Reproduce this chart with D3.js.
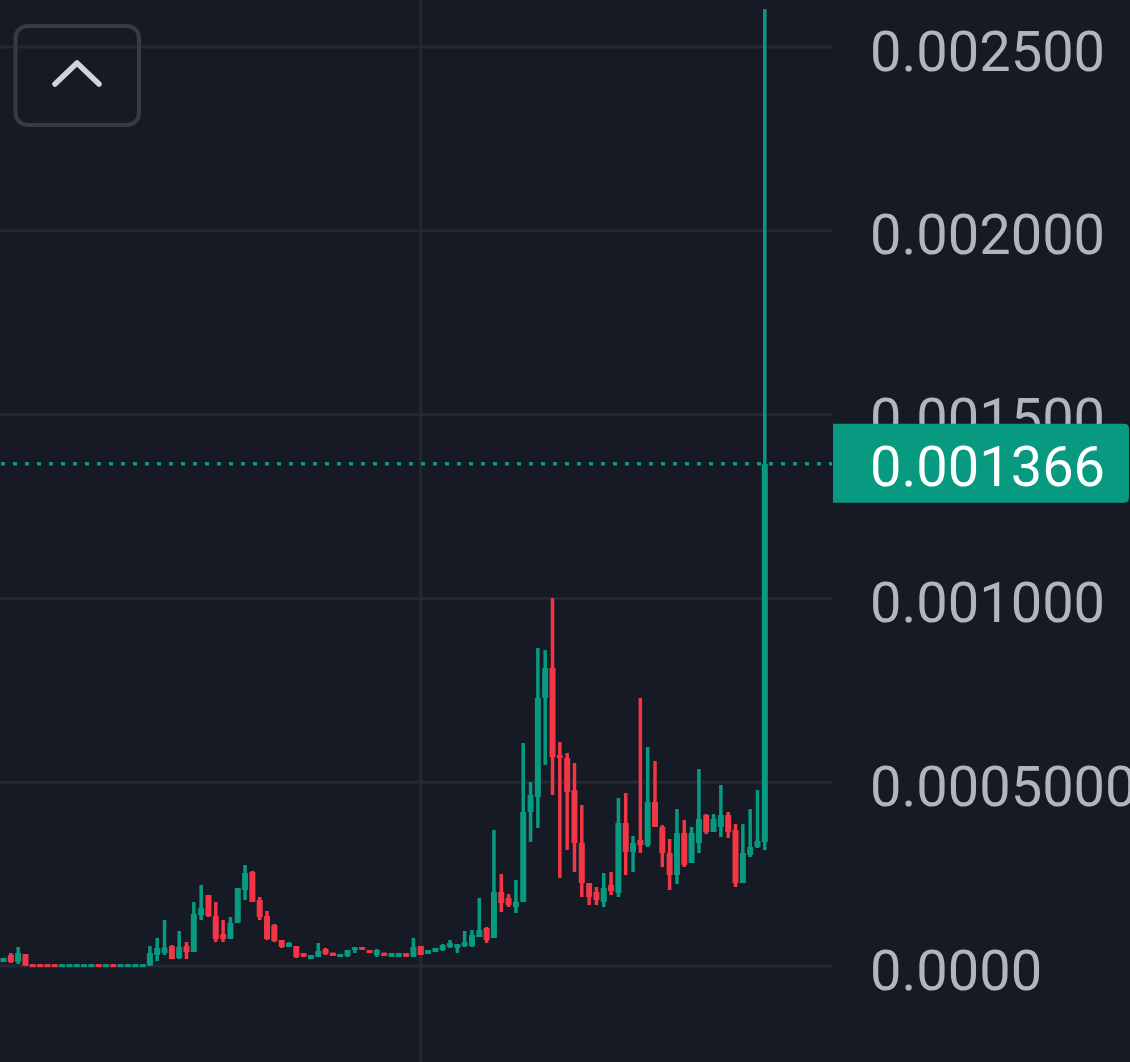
<!DOCTYPE html>
<html>
<head>
<meta charset="utf-8">
<script src="https://cdn.jsdelivr.net/npm/d3@7"></script>
<style>
  html, body { margin: 0; padding: 0; background: #161a25; }
  svg { display: block; }
</style>
</head>
<body>
<svg id="chart" width="1130" height="1062"></svg>
<script>
// ---- data ----
const openV = [0.0000109,0.0000299,0.0000109,0.0000326,0.0000012,0.0000012,0.0000012,0.0000012,0.0000008,0.0000008,
0.0000008,0.0000008,0.0000008,0.0000012,0.0000008,0.0000012,0.0000008,0.0000008,0.0000008,0.0000008,
0.0000010,0.0000299,0.0000354,0.0000544,0.0000218,0.0000544,0.0000381,0.0001387,0.0001931,0.0001360,
0.0000870,0.0000734,0.0001170,0.0002067,0.0002557,0.0001795,0.0001360,0.0001115,0.0000707,0.0000517,
0.0000544,0.0000354,0.0000190,0.0000245,0.0000462,0.0000362,0.0000245,0.0000272,0.0000435,0.0000517,
0.0000435,0.0000299,0.0000362,0.0000253,0.0000253,0.0000354,0.0000253,0.0000544,0.0000326,0.0000381,
0.0000435,0.0000517,0.0000490,0.0000544,0.0000544,0.0000789,0.0001034,0.0000762,0.0002013,0.0001850,
0.0001605,0.0001741,0.0004189,0.0004597,0.0007290,0.0008106,0.0005739,0.0005658,0.0004787,0.0003346,
0.0002258,0.0002013,0.0001741,0.0002203,0.0001986,0.0003890,0.0003101,0.0003427,0.0003291,0.0004461,
0.0003781,0.0003074,0.0002475,0.0003618,0.0002802,0.0003346,0.0004107,0.0003645,0.0003781,0.0004107,
0.0003699,0.0002258,0.0003019,0.0003237,0.0003373];
const highV = [0.0000218,0.0000354,0.0000517,0.0000326,0.0000012,0.0000012,0.0000012,0.0000012,0.0000012,0.0000012,
0.0000012,0.0000012,0.0000012,0.0000012,0.0000012,0.0000012,0.0000012,0.0000012,0.0000012,0.0000012,
0.0000544,0.0000762,0.0001251,0.0000571,0.0000952,0.0000653,0.0001741,0.0002203,0.0001931,0.0001741,
0.0001251,0.0001333,0.0002122,0.0002747,0.0002584,0.0001877,0.0001496,0.0001142,0.0000707,0.0000653,
0.0000544,0.0000354,0.0000299,0.0000626,0.0000490,0.0000362,0.0000326,0.0000435,0.0000517,0.0000517,
0.0000435,0.0000462,0.0000362,0.0000354,0.0000354,0.0000354,0.0000762,0.0000544,0.0000435,0.0000490,
0.0000598,0.0000707,0.0000598,0.0000952,0.0000979,0.0001850,0.0001061,0.0003699,0.0002502,0.0001958,
0.0002339,0.0006066,0.0005005,0.0008650,0.0008595,0.0010010,0.0006093,0.0005794,0.0005522,0.0004379,
0.0002258,0.0002149,0.0002530,0.0002557,0.0004570,0.0004706,0.0003536,0.0007290,0.0005957,0.0005576,
0.0003835,0.0003454,0.0004270,0.0003971,0.0003781,0.0005358,0.0004134,0.0004134,0.0004923,0.0004189,
0.0003862,0.0003862,0.0004270,0.0004787,0.0026030];
const lowV = [0.0000109,0.0000082,0.0000054,0.0000001,0.0000008,0.0000008,0.0000008,0.0000008,0.0000008,0.0000008,
0.0000008,0.0000008,0.0000008,0.0000008,0.0000008,0.0000008,0.0000008,0.0000008,0.0000008,0.0000008,
0.0000005,0.0000136,0.0000299,0.0000190,0.0000190,0.0000190,0.0000381,0.0001251,0.0001333,0.0000653,
0.0000653,0.0000734,0.0001170,0.0001795,0.0001741,0.0001251,0.0000707,0.0000653,0.0000490,0.0000517,
0.0000218,0.0000245,0.0000190,0.0000245,0.0000299,0.0000272,0.0000245,0.0000245,0.0000354,0.0000435,
0.0000354,0.0000245,0.0000272,0.0000245,0.0000245,0.0000245,0.0000245,0.0000299,0.0000326,0.0000381,
0.0000408,0.0000490,0.0000354,0.0000517,0.0000517,0.0000789,0.0000626,0.0000762,0.0001469,0.0001605,
0.0001442,0.0001741,0.0003373,0.0003754,0.0005467,0.0004651,0.0002394,0.0003155,0.0002557,0.0001877,
0.0001659,0.0001659,0.0001605,0.0001931,0.0001877,0.0002475,0.0002557,0.0003074,0.0003237,0.0003781,
0.0002693,0.0002067,0.0002230,0.0002693,0.0002802,0.0003074,0.0003590,0.0003645,0.0003509,0.0003482,
0.0002149,0.0002258,0.0002965,0.0003210,0.0003155];
const closeV = [0.0000218,0.0000109,0.0000354,0.0000005,0.0000008,0.0000008,0.0000008,0.0000008,0.0000012,0.0000012,
0.0000012,0.0000012,0.0000012,0.0000008,0.0000012,0.0000008,0.0000012,0.0000012,0.0000012,0.0000012,
0.0000354,0.0000490,0.0000503,0.0000190,0.0000517,0.0000381,0.0001414,0.0001578,0.0001360,0.0000734,
0.0000734,0.0001170,0.0002122,0.0002530,0.0001741,0.0001333,0.0000734,0.0000680,0.0000517,0.0000626,
0.0000245,0.0000253,0.0000299,0.0000408,0.0000326,0.0000272,0.0000326,0.0000435,0.0000503,0.0000435,
0.0000354,0.0000435,0.0000272,0.0000354,0.0000354,0.0000253,0.0000517,0.0000299,0.0000435,0.0000490,
0.0000571,0.0000626,0.0000598,0.0000653,0.0000843,0.0000979,0.0000707,0.0002013,0.0001714,0.0001659,
0.0001741,0.0004189,0.0004651,0.0007290,0.0008106,0.0005685,0.0005658,0.0004733,0.0003346,0.0002258,
0.0001877,0.0001795,0.0002122,0.0002040,0.0003890,0.0003101,0.0003346,0.0003291,0.0004461,0.0003781,
0.0003074,0.0002475,0.0003618,0.0002747,0.0003618,0.0003998,0.0003645,0.0003998,0.0004107,0.0003645,
0.0002258,0.0003074,0.0003237,0.0003400,0.0013660];
const tickValues = [0, 0.0005, 0.0010, 0.0015, 0.0020, 0.0025];
const tickLabels = ["0.0000", "0.0005000", "0.001000", "0.001500", "0.002000", "0.002500"];
const lastPrice = 0.001366;
const lastPriceLabel = "0.001366";
const separatorIndex = 57;

// ---- styles ----
const BG = "#161a25", GRID = "#242833", UP = "#089981", DOWN = "#f23645";
const TEXT = "#b2b5be";
const FONT = "Roboto, 'Noto Sans', sans-serif";

const svg = d3.select("#chart");
svg.append("rect").attr("width", 1130).attr("height", 1062).attr("fill", BG);

const n = openV.length;
const x = d3.scaleLinear().domain([0, n - 1]).range([3.5, 764.8]);
const y = d3.scaleLinear().domain([0, 0.0025]).range([966, 47]);
const plotRight = 832;

// vertical separator
svg.append("line")
  .attr("x1", x(separatorIndex)).attr("x2", x(separatorIndex))
  .attr("y1", 0).attr("y2", 1062)
  .attr("stroke", GRID).attr("stroke-width", 3);

// horizontal grid
svg.append("g").selectAll("line").data(tickValues).join("line")
  .attr("x1", 0).attr("x2", plotRight)
  .attr("y1", d => y(d)).attr("y2", d => y(d))
  .attr("stroke", GRID).attr("stroke-width", 3);

// candles
const data = d3.range(n).map(i => ({i, o: openV[i], h: highV[i], l: lowV[i], c: closeV[i]}));
const g = svg.append("g");
const cand = g.selectAll("g").data(data).join("g")
  .attr("fill", d => d.c >= d.o ? UP : DOWN);
cand.append("rect")
  .attr("x", d => x(d.i) - 1.75).attr("width", 3.5)
  .attr("y", d => y(d.h))
  .attr("height", d => Math.max(0.5, y(d.l) - y(d.h)));
cand.append("rect")
  .attr("x", d => x(d.i) - 3).attr("width", 6)
  .attr("y", d => {
    const t = Math.min(y(d.o), y(d.c)), hgt = Math.abs(y(d.o) - y(d.c));
    return hgt < 3 ? (t + hgt / 2 - 1.5) : t;
  })
  .attr("height", d => Math.max(3, Math.abs(y(d.o) - y(d.c))));

// last price dotted line
svg.append("line")
  .attr("x1", 0).attr("x2", plotRight)
  .attr("y1", y(lastPrice)).attr("y2", y(lastPrice))
  .attr("stroke", UP).attr("stroke-width", 3.5)
  .attr("stroke-dasharray", "4 8").attr("stroke-dashoffset", -1);

// right axis
const axis = d3.axisRight(y).tickValues(tickValues)
  .tickFormat((d, i) => tickLabels[i]).tickSize(0).tickPadding(0);
const ag = svg.append("g").attr("transform", "translate(870,0)").call(axis);
ag.select(".domain").remove();
ag.selectAll("text")
  .attr("x", 0).attr("dy", null).attr("y", 23)
  .attr("fill", TEXT)
  .style("font-family", FONT).style("font-size", "56px");

// last price label
const ly = y(lastPrice);
const bx0 = 833, bx1 = 1129, by0 = ly - 40, by1 = ly + 39, r = 5;
svg.append("path")
  .attr("d", `M${bx0},${by0} H${bx1 - r} Q${bx1},${by0} ${bx1},${by0 + r} V${by1 - r} Q${bx1},${by1} ${bx1 - r},${by1} H${bx0} Z`)
  .attr("fill", UP);
svg.append("text")
  .attr("x", 870).attr("y", ly + 22)
  .attr("fill", "#ffffff")
  .style("font-family", FONT).style("font-size", "56px")
  .text(lastPriceLabel);

// scroll-up button
svg.append("rect")
  .attr("x", 15.5).attr("y", 26).attr("width", 123.5).attr("height", 99)
  .attr("rx", 12).attr("fill", "none")
  .attr("stroke", "#363a45").attr("stroke-width", 4);
svg.append("path")
  .attr("d", "M55,84 L77,63 L99,84")
  .attr("fill", "none").attr("stroke", "#d1d4dc")
  .attr("stroke-width", 5.5).attr("stroke-linecap", "round").attr("stroke-linejoin", "round");
</script>
</body>
</html>
